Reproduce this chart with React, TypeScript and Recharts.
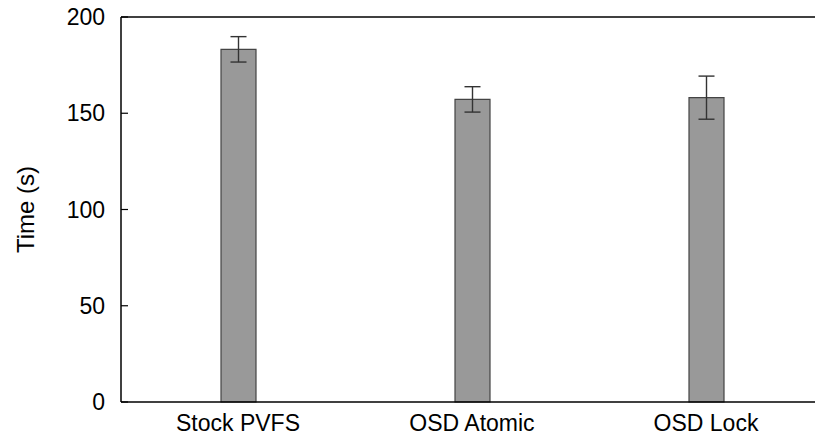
import { BarChart, Bar, XAxis, YAxis, ErrorBar, ReferenceLine, Label } from 'recharts';

const systems = ['Stock PVFS', 'OSD Atomic', 'OSD Lock'];
const times = [183.2, 157.2, 158.1];
const spreads = [6.6, 6.6, 11.2];
const yTicks = [0, 50, 100, 150, 200];

const data = systems.map((name, i) => ({ name, time: times[i], err: spreads[i] }));

const font = { fontFamily: '"Liberation Sans", Arial, Helvetica, sans-serif', fontSize: 23, fill: '#000' };

export default function App() {
  // fixed so the plot can run past the right edge, like the reference, without scrollbars
  return (
    <div style={{ position: 'fixed', left: 0, top: 0, width: 815, height: 438, overflow: 'hidden', background: '#fff' }}>
      <BarChart
        width={834}
        height={438}
        data={data}
        margin={{ top: 17, right: 1, left: 21, bottom: 6 }}
        barCategoryGap={0}
      >
        <XAxis
          dataKey="name"
          height={30}
          tickLine={false}
          tickSize={0}
          tickMargin={13}
          axisLine={{ stroke: '#000', strokeWidth: 1.5 }}
          tick={font}
          interval={0}
        />
        <YAxis
          yAxisId="left"
          width={100}
          domain={[0, 200]}
          ticks={yTicks}
          tickSize={-7}
          tickMargin={23}
          tickLine={{ stroke: '#000', strokeWidth: 1.2 }}
          axisLine={{ stroke: '#000', strokeWidth: 1.5 }}
          tick={font}
        >
          <Label
            value="Time (s)"
            angle={-90}
            position="insideLeft"
            offset={4}
            style={{ ...font, fontSize: 24, textAnchor: 'middle' }}
          />
        </YAxis>
        <YAxis
          yAxisId="right"
          orientation="right"
          width={10}
          domain={[0, 200]}
          ticks={yTicks}
          tickSize={-9}
          tickMargin={0}
          tickFormatter={() => ''}
          tickLine={{ stroke: '#000', strokeWidth: 1.2 }}
          axisLine={{ stroke: '#000', strokeWidth: 1.5 }}
        />
        <ReferenceLine yAxisId="left" y={200} stroke="#000" strokeWidth={1.5} />
        <Bar
          yAxisId="left"
          dataKey="time"
          barSize={35}
          fill="#999999"
          stroke="#444444"
          strokeWidth={1.2}
          isAnimationActive={false}
        >
          <ErrorBar dataKey="err" width={8} stroke="#333" strokeWidth={1.4} isAnimationActive={false} />
        </Bar>
      </BarChart>
    </div>
  );
}
